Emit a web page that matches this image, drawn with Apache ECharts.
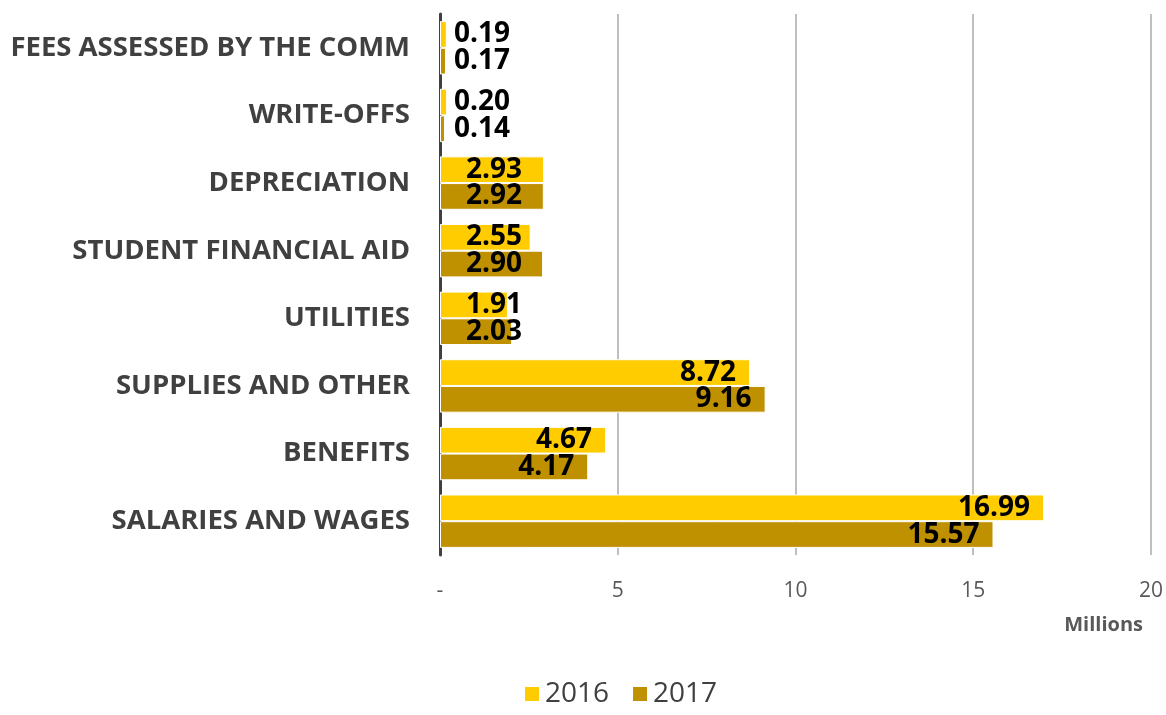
<!DOCTYPE html>
<html><head><meta charset="utf-8">
<script src="https://cdn.jsdelivr.net/npm/echarts@6/dist/echarts.min.js"></script>
<style>html,body{margin:0;padding:0;background:#fff}#c{width:1166px;height:715px}</style>
</head><body><div id="c"></div>
<script>
const categories = ['SALARIES AND WAGES','BENEFITS','SUPPLIES AND OTHER','UTILITIES','STUDENT FINANCIAL AID','DEPRECIATION','WRITE-OFFS','FEES ASSESSED BY THE COMM'];
const values2016 = [16.99, 4.67, 8.72, 1.91, 2.55, 2.93, 0.20, 0.19];
const values2017 = [15.57, 4.17, 9.16, 2.03, 2.90, 2.92, 0.14, 0.17];
const xTicks = ['-', '5', '10', '15', '20'];
const FONT = 'Open Sans';

function items(arr){
  return arr.map(v => {
    let label;
    if (v < 1) label = {position: 'insideLeft', distance: 14};
    else if (v < 4) label = {position: 'insideLeft', distance: 26};
    else label = {position: 'insideRight', distance: 14};
    return {value: v, label};
  });
}
const labelStyle = {show: true, fontFamily: FONT, fontWeight: 'bold', fontSize: 28, color: '#000', formatter: p => p.value.toFixed(2)};

const chart = echarts.init(document.getElementById('c'));
chart.setOption({
  animation: false,
  grid: {left: 440, right: 14, top: 14, bottom: 160, containLabel: false},
  legend: {bottom: 2, left: 518, itemWidth: 16, itemHeight: 16, itemGap: 22,
    textStyle: {fontFamily: FONT, fontSize: 28, color: '#404040'}, icon: 'rect', data: ['2016','2017']},
  xAxis: {type: 'value', min: 0, max: 20, interval: 5,
    axisLine: {show: false}, axisTick: {show: false},
    splitLine: {lineStyle: {color: '#BFBFBF', width: 2}},
    axisLabel: {fontFamily: FONT, fontSize: 21, color: '#595959', margin: 26,
      formatter: v => xTicks[Math.round(v / 5)]},
    name: 'Millions', nameLocation: 'end', nameGap: 0,
    nameTextStyle: {fontFamily: FONT, fontSize: 20, fontWeight: 'bold', color: '#595959', align: 'right', verticalAlign: 'top', padding: [60, 8, 0, 0]}
  },
  yAxis: {type: 'category', data: categories,
    axisLine: {lineStyle: {color: '#404040', width: 3}}, axisTick: {show: false},
    axisLabel: {fontFamily: FONT, fontSize: 27.5, fontWeight: 'bold', color: '#404040', margin: 30}
  },
  series: [
    {name: '2016', type: 'bar', data: items(values2016), barGap: '0%', barCategoryGap: '21%',
      itemStyle: {color: '#FFCC00', borderColor: '#fff', borderWidth: 1}, label: labelStyle},
    {name: '2017', type: 'bar', data: items(values2017), barGap: '0%', barCategoryGap: '21%',
      itemStyle: {color: '#BF9000', borderColor: '#fff', borderWidth: 1}, label: labelStyle}
  ]
});
</script></body></html>
